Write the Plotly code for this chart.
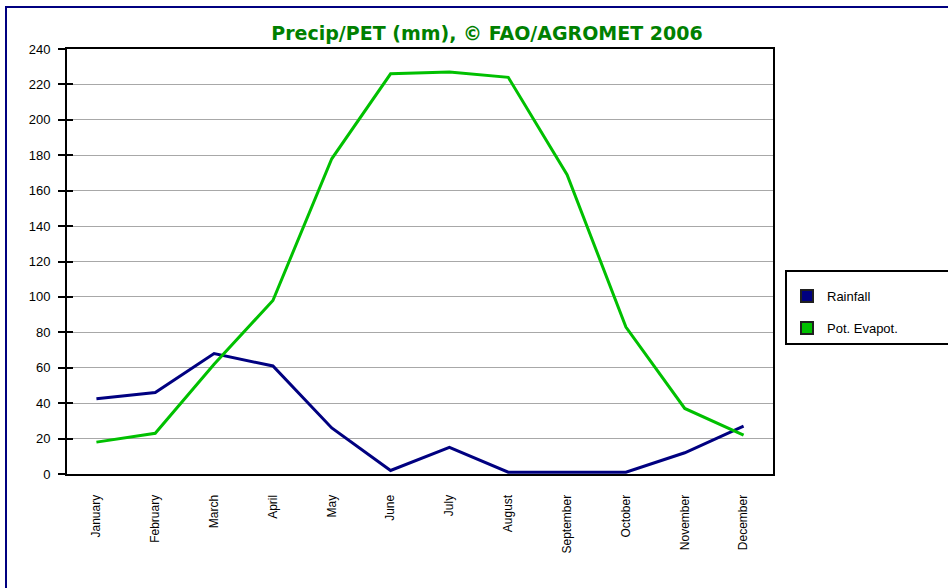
import plotly.graph_objects as go

months = ['January', 'February', 'March', 'April', 'May', 'June', 'July',
          'August', 'September', 'October', 'November', 'December']
rainfall = [42.5, 46, 68, 61, 26, 2, 15, 1, 1, 1, 12, 27]
pet = [18, 23, 62, 98, 178, 226, 227, 224, 169, 83, 37, 22]

series_names = ['Rainfall', 'Pot. Evapot.']
series_colors = ['#000080', '#00C000']

W, H = 948, 588
L, R, T, B = 67, 175, 49, 114
pw, ph = W - L - R, H - T - B


def px_x(x):
    return (x - L) / pw


def px_y(y):
    return (H - B - y) / ph


fig = go.Figure()

for name, vals, col in zip(series_names, [rainfall, pet], series_colors):
    fig.add_trace(go.Scatter(
        x=months, y=vals, mode='lines', name=name,
        line=dict(color=col, width=3), showlegend=False
    ))
    # square legend swatch (nbsp padding so the box runs off the right edge)
    fig.add_trace(go.Scatter(
        x=[None], y=[None], mode='markers', name=name + '\u00a0' * 14,
        legendgroup=name,
        marker=dict(symbol='square', size=15, color=col,
                    line=dict(color='#202020', width=1))
    ))

# dummy trace so the overlay axis (inner half of the crossing ticks) is drawn
fig.add_trace(go.Scatter(x=[None], y=[None], yaxis='y2', showlegend=False,
                         hoverinfo='skip'))

# outer frame (page border, cut off at right/bottom)
fig.add_shape(type='rect', xref='paper', yref='paper',
              x0=px_x(6), x1=px_x(1000), y0=px_y(640), y1=px_y(7),
              line=dict(color='#000080', width=2), layer='below')

fig.update_layout(
    width=W, height=H,
    margin=dict(l=L, r=R, t=T, b=B, autoexpand=False),
    paper_bgcolor='white', plot_bgcolor='white',
    font=dict(family='Liberation Sans, Arial, sans-serif', size=12, color='black'),
    title=dict(text='<b>Precip/PET (mm), © FAO/AGROMET 2006</b>',
               xref='container', x=487 / W, xanchor='center',
               yref='container', y=1 - 33 / H, yanchor='middle',
               font=dict(family='DejaVu Sans, sans-serif', size=19, color='#008000')),
    xaxis=dict(showgrid=False, showline=True, linecolor='black', linewidth=2,
               mirror=True, ticks='', tickangle=-90, ticklabelstandoff=14,
               range=[-0.5, 11.5], tickfont=dict(size=12)),
    yaxis=dict(range=[0, 240], dtick=20, showgrid=True, gridcolor='#a8a8a8',
               gridwidth=1, showline=True, linecolor='black', linewidth=2,
               mirror=True, ticks='outside', ticklen=7, tickwidth=2,
               tickcolor='black', ticklabelstandoff=5, zeroline=False,
               tickfont=dict(size=13)),
    yaxis2=dict(overlaying='y', range=[0, 240], dtick=20,
                showgrid=False, showticklabels=False, ticks='inside',
                ticklen=6, tickwidth=2, tickcolor='black', zeroline=False,
                showline=False),
    legend=dict(x=px_x(785), y=px_y(270), xanchor='left', yanchor='top',
                bordercolor='black', borderwidth=2, bgcolor='white',
                font=dict(size=13), tracegroupgap=12,
                title=dict(text=' ', font=dict(size=7)),
                itemsizing='constant'),
)

fig.write_html('out.html', config={'displayModeBar': False},
               post_script="document.body.style.margin='0';")
